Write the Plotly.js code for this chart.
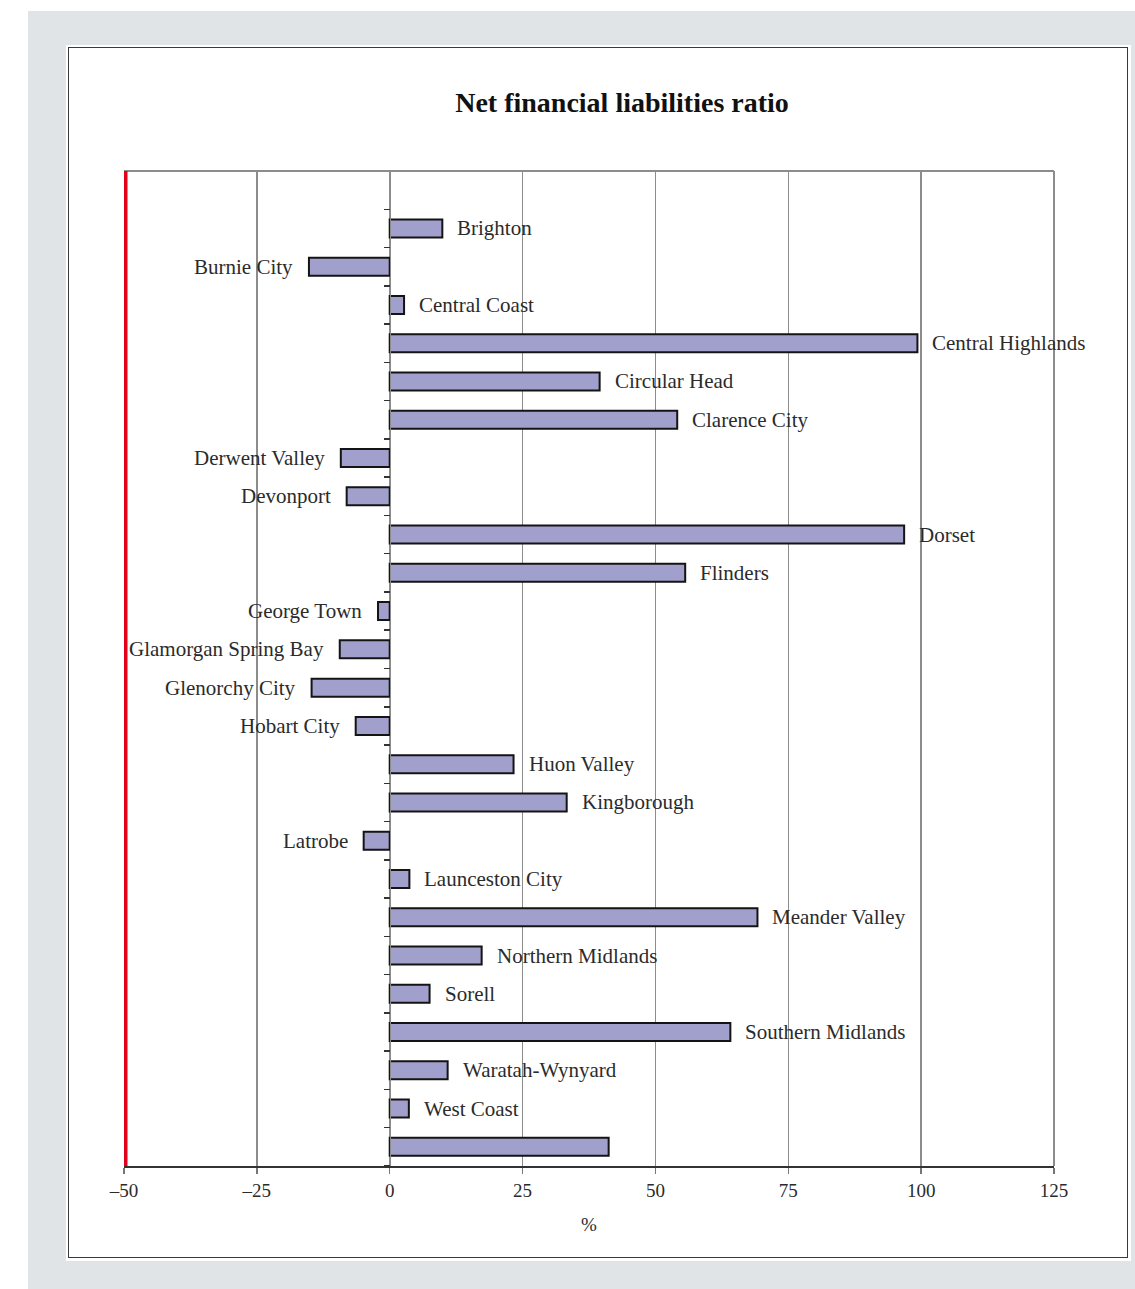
<!DOCTYPE html>
<html>
<head>
<meta charset="utf-8">
<script src="https://cdn.plot.ly/plotly-3.0.1.min.js"></script>
<style>
  html, body { margin: 0; padding: 0; background: #ffffff; }
  body { width: 1135px; height: 1289px; position: relative; overflow: hidden; }
  #backdrop { position: absolute; left: 28px; top: 11px; width: 1107px; height: 1278px; background: #e1e4e7; }
  #panel { position: absolute; left: 66px; top: 45px; width: 1065px; height: 1216px; background: #ffffff; }
  #panel-border { position: absolute; left: 68px; top: 47px; width: 1058px; height: 1209px; border: 1.5px solid #3a3a3a; }
  #chart { position: absolute; left: 0; top: 0; width: 1135px; height: 1289px; }
</style>
</head>
<body>
<div id="backdrop"></div>
<div id="panel"></div>
<div id="panel-border"></div>
<div id="chart"></div>
<script>
// Councils, top to bottom; the final bar is the average and carries no label
const councils = [
  'Brighton', 'Burnie City', 'Central Coast', 'Central Highlands', 'Circular Head',
  'Clarence City', 'Derwent Valley', 'Devonport', 'Dorset', 'Flinders',
  'George Town', 'Glamorgan Spring Bay', 'Glenorchy City', 'Hobart City', 'Huon Valley',
  'Kingborough', 'Latrobe', 'Launceston City', 'Meander Valley', 'Northern Midlands',
  'Sorell', 'Southern Midlands', 'Waratah-Wynyard', 'West Coast', 'Average'
];

// Net financial liabilities ratio, %
const ratioPct = [
  9.9, -15.2, 2.7, 99.3, 39.5,
  54.1, -9.2, -8.1, 96.8, 55.6,
  -2.2, -9.4, -14.7, -6.4, 23.3,
  33.3, -4.9, 3.7, 69.2, 17.3,
  7.5, 64.1, 10.9, 3.6, 41.2
];

const unlabelled = ['Average'];
const xTicks = [-50, -25, 0, 25, 50, 75, 100, 125];

const serif = 'Liberation Serif, Times New Roman, serif';
const ink = '#2b2b2b';
const gridGrey = '#8c8c8c';

// Category order bottom-to-top for the axis
const axisOrder = councils.slice().reverse();

const bars = {
  type: 'bar',
  orientation: 'h',
  x: ratioPct,
  y: councils,
  marker: { color: '#a19fcb', line: { color: '#141414', width: 2 } },
  hoverinfo: 'x+y',
  showlegend: false
};

// Name labels beside each bar: right of positive bars, left of negative ones
const labels = councils
  .map((name, i) => ({ name, v: ratioPct[i] }))
  .filter(d => !unlabelled.includes(d.name))
  .map(d => ({
    x: d.v,
    y: d.name,
    xref: 'x',
    yref: 'y',
    text: d.name,
    showarrow: false,
    xanchor: d.v >= 0 ? 'left' : 'right',
    xshift: d.v >= 0 ? 13 : -14,
    font: { family: serif, size: 21, color: ink }
  }));

const layout = {
  width: 1135,
  height: 1289,
  margin: { l: 124, r: 81, t: 171, b: 123, pad: 0 },
  paper_bgcolor: 'rgba(0,0,0,0)',
  plot_bgcolor: '#ffffff',
  bargap: 0.53,
  title: {
    text: '<b>Net financial liabilities ratio</b>',
    font: { family: serif, size: 28, color: '#111111' },
    xref: 'paper',
    x: 0.5355,
    xanchor: 'center',
    yref: 'container',
    y: 1 - 102 / 1289,
    yanchor: 'middle'
  },
  xaxis: {
    range: [-50, 125],
    tickmode: 'array',
    tickvals: xTicks,
    ticktext: xTicks.map(v => (v < 0 ? '\u2013' + Math.abs(v) : String(v))),
    showgrid: true,
    gridcolor: gridGrey,
    gridwidth: 1.5,
    zeroline: false,
    showline: true,
    linecolor: '#333333',
    linewidth: 2,
    ticks: 'outside',
    ticklen: 6,
    tickwidth: 1.5,
    tickcolor: '#777777',
    tickfont: { family: serif, size: 19, color: ink },
    title: { text: '%', font: { family: serif, size: 19, color: ink }, standoff: 18 },
    fixedrange: true
  },
  yaxis: {
    type: 'category',
    categoryorder: 'array',
    categoryarray: axisOrder,
    range: [-0.5, 25.5],
    anchor: 'free',
    position: (0 - (-50)) / (125 - (-50)),
    showline: true,
    linecolor: gridGrey,
    linewidth: 1.5,
    ticks: 'outside',
    tickson: 'boundaries',
    ticklen: 6,
    tickwidth: 1.5,
    tickcolor: '#333333',
    showticklabels: false,
    showgrid: false,
    zeroline: false,
    fixedrange: true
  },
  shapes: [
    // frame top and right edges
    { type: 'line', xref: 'paper', yref: 'paper', x0: 0, x1: 1, y0: 1, y1: 1,
      line: { color: gridGrey, width: 2 } },
    { type: 'line', xref: 'paper', yref: 'paper', x0: 1, x1: 1, y0: 0, y1: 1,
      line: { color: gridGrey, width: 2 } },
    // red marker line at -50 (half of its width falls inside the plot area)
    { type: 'line', xref: 'x', yref: 'paper', x0: -50, x1: -50, y0: 0, y1: 1,
      line: { color: '#e2001a', width: 7 } }
  ],
  annotations: labels
};

Plotly.newPlot('chart', [bars], layout, { displayModeBar: false, staticPlot: true });
</script>
</body>
</html>
